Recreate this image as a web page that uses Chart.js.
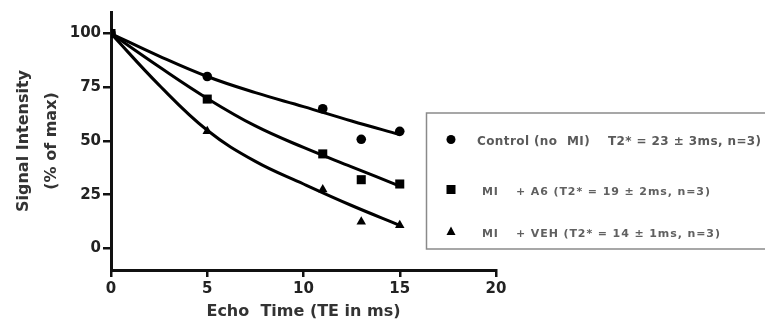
<!DOCTYPE html>
<html>
<head>
<meta charset="utf-8">
<script src="https://cdn.jsdelivr.net/npm/chart.js@4/dist/chart.umd.min.js"></script>
<style>
  html, body { margin: 0; padding: 0; background: #ffffff; }
  #wrap { width: 765px; height: 331px; position: relative; }
</style>
</head>
<body>
<div id="wrap"><canvas id="c" width="765" height="331"></canvas></div>
<script>
// ---- data ----
const echoTimes = [0, 5, 11, 13, 15];
const controlValues = [100, 80, 65, 50.8, 54.5];
const a6Values = [100, 69.5, 44, 32, 30];
const vehValues = [100, 54.5, 27.5, 12.5, 10.8];

// fitted decay curves
const fitTimes = [0, 2.5, 5, 7.5, 10, 12.5, 15];
const controlFit = [100, 89.5, 80, 72.5, 66, 59.3, 53];
const a6Fit = [100, 84.5, 69.8, 57, 47, 38, 29];
const vehFit = [100, 76, 55, 40.5, 30, 20, 10.8];

const xTicks = [0, 5, 10, 15, 20];
const yTicks = [0, 25, 50, 75, 100];

const seriesNames = [
  ['Control (no', 'MI)', 'T2* = 23 \u00b1 3ms, n=3)'],
  ['MI', '+ A6 (T2* = 19 \u00b1 2ms, n=3)'],
  ['MI', '+ VEH (T2* = 14 \u00b1 1ms, n=3)']
];
const xTitle = 'Echo  Time (TE in ms)';
const yTitle = ['Signal Intensity', '(% of max)'];

function pts(xs, ys) { return xs.map((x, i) => ({ x: x, y: ys[i] })); }

const legendBox = {
  id: 'legendBox',
  afterDraw(chart) {
    const ctx = chart.ctx;
    ctx.save();
    ctx.strokeStyle = '#8a8a8a';
    ctx.lineWidth = 1.5;
    ctx.strokeRect(426.5, 113, 360, 136);
    ctx.fillStyle = '#000';
    // circle
    ctx.beginPath(); ctx.arc(451, 139.5, 4.5, 0, Math.PI * 2); ctx.fill();
    // square
    ctx.fillRect(446.5, 185, 9, 9);
    // triangle
    ctx.beginPath(); ctx.moveTo(451, 226.5); ctx.lineTo(455.5, 235); ctx.lineTo(446.5, 235); ctx.closePath(); ctx.fill();

    ctx.fillStyle = '#5a5a5a';
    ctx.textBaseline = 'alphabetic';
    ctx.textAlign = 'left';
    ctx.font = 'bold 12px "DejaVu Sans"';
    try { ctx.letterSpacing = '0.4px'; } catch (e) {}
    ctx.fillText(seriesNames[0][0], 477, 144.5);
    ctx.fillText(seriesNames[0][1], 567, 144.5);
    ctx.fillText(seriesNames[0][2], 608, 144.5);
    ctx.font = 'bold 11px "DejaVu Sans"';
    try { ctx.letterSpacing = '0.9px'; } catch (e) {}
    ctx.fillStyle = '#606060';
    ctx.fillText(seriesNames[1][0], 482, 195);
    ctx.fillText(seriesNames[1][1], 516, 195);
    ctx.fillText(seriesNames[2][0], 482, 236.5);
    ctx.fillText(seriesNames[2][1], 516, 236.5);
    ctx.restore();
  }
};

const axisFont = { family: '"DejaVu Sans"', size: 15, weight: 'bold' };
const curveStyle = { showLine: true, borderColor: '#000', borderWidth: 3, pointRadius: 0, tension: 0.4, fill: false };

new Chart(document.getElementById('c'), {
  type: 'scatter',
  data: {
    datasets: [
      Object.assign({ data: pts(fitTimes, controlFit) }, curveStyle),
      Object.assign({ data: pts(fitTimes, a6Fit) }, curveStyle),
      Object.assign({ data: pts(fitTimes, vehFit) }, curveStyle),
      { label: 'Control', data: pts(echoTimes, controlValues), pointStyle: 'circle', pointRadius: 4.8, backgroundColor: '#000', borderColor: '#000', borderWidth: 0 },
      { label: 'MI + A6', data: pts(echoTimes, a6Values), pointStyle: 'rect', pointRadius: 6.4, backgroundColor: '#000', borderColor: '#000', borderWidth: 0 },
      { label: 'MI + VEH', data: pts(echoTimes, vehValues), pointStyle: 'triangle', pointRadius: 5.5, backgroundColor: '#000', borderColor: '#000', borderWidth: 0 }
    ]
  },
  options: {
    responsive: false,
    animation: false,
    layout: { padding: { top: 12, right: 269, left: 0, bottom: 0 } },
    plugins: { legend: { display: false }, tooltip: { enabled: false } },
    scales: {
      x: {
        type: 'linear', min: 0, max: 20,
        afterBuildTicks(s) { s.ticks = xTicks.map(v => ({ value: v })); },
        afterFit(s) { s.height = 61; },
        ticks: { color: '#222', font: axisFont, padding: 3 },
        grid: { drawOnChartArea: false, drawTicks: true, tickLength: 7, color: '#111', lineWidth: 2.5 },
        border: { color: '#111', width: 3 },
        title: { display: true, text: xTitle, color: '#333', font: { family: '"DejaVu Sans"', size: 16, weight: 'bold', lineHeight: 1.2 }, padding: { top: 2, bottom: 10 } }
      },
      y: {
        type: 'linear', min: -10, max: 110,
        afterBuildTicks(s) { s.ticks = yTicks.map(v => ({ value: v })); },
        afterFit(s) { s.width = 111; },
        ticks: { color: '#222', font: axisFont, padding: 2 },
        grid: { drawOnChartArea: false, drawTicks: true, tickLength: 8, color: '#111', lineWidth: 2.5 },
        border: { color: '#111', width: 3 },
        title: { display: true, text: yTitle, color: '#333', font: { family: '"DejaVu Sans"', size: 16, weight: 'bold', lineHeight: 1.8 }, padding: { top: 9, bottom: 0 } }
      }
    }
  },
  plugins: [legendBox]
});
</script>
</body>
</html>
